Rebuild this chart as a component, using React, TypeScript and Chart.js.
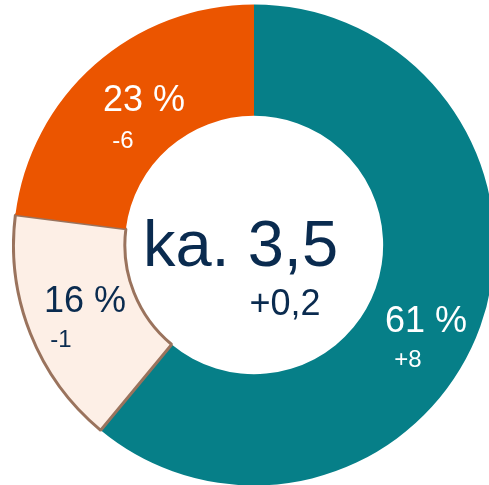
import React, { useEffect, useRef } from "react";
import { Chart, registerables } from "chart.js";

Chart.register(...registerables);

const categories = ["A", "B", "C"];
const shares = [61, 16, 23];
const changes = ["+8", "-1", "-6"];
const centerValue = "ka. 3,5";
const centerChange = "+0,2";

const fillColors = ["#067F88", "#FDEFE6", "#EB5500"];
const borderColors = ["#067F88", "#9A735D", "#EB5500"];
const borderWidths = [0, 3, 0];
const textColors = ["#FFFFFF", "#0A2B4F", "#FFFFFF"];
const navy = "#0A2B4F";
const FONT = "'Liberation Sans', Arial, sans-serif";

// label placement offsets from the doughnut centre (px): [share, change]
const shareOffsets = [
  [172, 87],
  [-169, 67],
  [-110, -134],
];
const changeOffsets = [
  [154, 122],
  [-193, 102],
  [-131, -97],
];

const labelPlugin = {
  id: "donutLabels",
  afterDraw(chart: any) {
    const meta = chart.getDatasetMeta(0);
    const arc = meta.data[0];
    if (!arc) return;
    const cx = arc.x;
    const cy = arc.y;
    const ctx = chart.ctx;
    ctx.save();
    ctx.textAlign = "center";
    ctx.textBaseline = "alphabetic";
    shares.forEach((v, i) => {
      ctx.fillStyle = textColors[i];
      ctx.font = `36px ${FONT}`;
      ctx.fillText(`${v} %`, cx + shareOffsets[i][0], cy + shareOffsets[i][1]);
      ctx.font = `24px ${FONT}`;
      ctx.fillText(changes[i], cx + changeOffsets[i][0], cy + changeOffsets[i][1]);
    });
    ctx.fillStyle = navy;
    ctx.font = `65px ${FONT}`;
    ctx.fillText(centerValue, cx - 13.5, cy + 21);
    ctx.font = `36px ${FONT}`;
    ctx.fillText(centerChange, cx + 31, cy + 70);
    ctx.restore();
  },
};

export default function App() {
  const ref = useRef<HTMLCanvasElement | null>(null);
  useEffect(() => {
    if (!ref.current) return;
    const chart = new Chart(ref.current, {
      type: "doughnut",
      data: {
        labels: categories,
        datasets: [
          {
            data: shares,
            backgroundColor: fillColors,
            borderColor: borderColors,
            borderWidth: borderWidths,
          },
        ],
      },
      options: {
        responsive: false,
        animation: false,
        cutout: "53.7%",
        rotation: 0,
        layout: { padding: 0 },
        plugins: {
          legend: { display: false },
          tooltip: { enabled: false },
        },
      },
      plugins: [labelPlugin],
    });
    return () => chart.destroy();
  }, []);
  return (
    <div
      style={{
        position: "fixed",
        left: 0,
        top: 0,
        width: "100vw",
        height: "100vh",
        overflow: "hidden",
        background: "#fff",
      }}
    >
      <canvas
        ref={ref}
        width={484}
        height={484}
        style={{ position: "absolute", left: 12, top: 3, width: 484, height: 484 }}
      />
    </div>
  );
}
